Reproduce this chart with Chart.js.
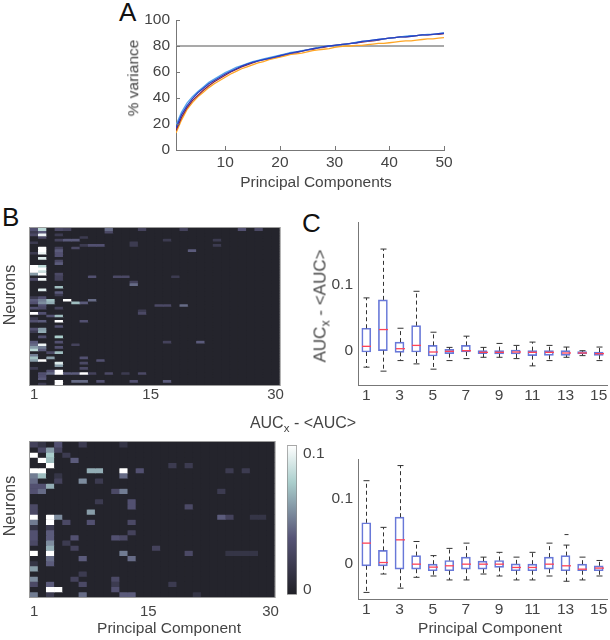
<!DOCTYPE html>
<html>
<head>
<meta charset="utf-8">
<title>Variance explained and AUC by principal component</title>
<script src="https://cdn.jsdelivr.net/npm/chart.js@4.4.1/dist/chart.umd.min.js"></script>
<style>
  html, body { margin: 0; padding: 0; background: #fff; }
  body { position: relative; width: 610px; height: 640px; overflow: hidden;
         font-family: "Liberation Sans", Arial, sans-serif; color: #444; }
  canvas { position: absolute; }
  .txt { position: absolute; line-height: 1; white-space: nowrap; font-size: 15.5px;
         transform: translate(-50%, -50%); }
  .rot { transform: translate(-50%, -50%) rotate(-90deg); }
  .panel { position: absolute; line-height: 1; font-size: 26px; color: #111; }
  .sub { font-size: 0.72em; position: relative; top: 0.32em; }
</style>
</head>
<body>
<div class="panel" style="left:119px;top:-1px">A</div>
<div class="panel" style="left:2px;top:204px">B</div>
<div class="panel" style="left:302px;top:210px">C</div>

<canvas id="varChart" width="340" height="200" style="left:120px;top:0px"></canvas>
<canvas id="heatTop" width="285" height="200" style="left:0px;top:205px"></canvas>
<canvas id="heatBottom" width="285" height="220" style="left:0px;top:420px"></canvas>
<canvas id="colorBar" width="60" height="180" style="left:280px;top:430px"></canvas>
<canvas id="boxTop" width="280" height="210" style="left:330px;top:200px"></canvas>
<canvas id="boxBottom" width="280" height="210" style="left:330px;top:430px"></canvas>

<div class="txt rot" style="left:133px;top:78px">% variance</div>
<div class="txt" style="left:316px;top:182px">Principal Components</div>
<div class="txt rot" style="left:10px;top:295px;font-size:16px">Neurons</div>
<div class="txt rot" style="left:10px;top:506px;font-size:16px">Neurons</div>
<div class="txt" style="left:169px;top:628px">Principal Component</div>
<div class="txt" style="left:490px;top:628px">Principal Component</div>
<div class="txt" style="left:303px;top:423px;font-size:16px">AUC<span class="sub">x</span> - &lt;AUC&gt;</div>
<div class="txt rot" style="left:320px;top:306px;font-size:17px">AUC<span class="sub">x</span> - &lt;AUC&gt;</div>

<script>
// ---- panel A: cumulative % variance ----
const PC_X = [1, 2, 3, 4, 5, 6, 7, 8, 9, 10, 11, 12, 13, 14, 15, 16, 17, 18, 19, 20,
  21, 22, 23, 24, 25, 26, 27, 28, 29, 30, 31, 32, 33, 34, 35, 36, 37, 38, 39, 40,
  41, 42, 43, 44, 45, 46, 47, 48, 49, 50];
const VAR_DARK_BLUE = [17, 27, 34, 39.5, 44, 47.5, 51, 53.5, 56, 58.5,
  60.5, 62.5, 64.5, 66, 67.5, 68.5, 69.5, 70.5, 71.5, 72.5,
  73.5, 74.5, 75.5, 76, 77, 78, 78.5, 79.5, 80, 80.5,
  81, 81.5, 82, 82.5, 83.5, 84, 84.5, 85, 85.5, 86,
  86.5, 87, 87, 87.5, 88, 88.5, 88.5, 89, 89.5, 89.8];
const VAR_LIGHT_BLUE = [19, 29, 36, 41, 45, 48.5, 52, 54.5, 57, 59.5,
  61.5, 63.5, 65, 66.5, 68, 69, 70, 71, 72, 73,
  74, 75, 75.5, 76.5, 77, 78, 79, 79.5, 80, 80.5,
  81, 81.5, 82, 83, 83.5, 84, 84.5, 85, 85.5, 86,
  86.5, 87, 87.5, 88, 88, 88.5, 89, 89, 89.5, 90];
const VAR_DARK_RED = [15, 25, 32.5, 38, 42, 46, 49.5, 52.5, 55, 57.5,
  60, 62, 64, 65.5, 67, 68.5, 69.5, 70.5, 71.5, 72.5,
  73.5, 74.5, 75, 76, 77, 77.5, 78.5, 79, 80, 80.5,
  81, 81.5, 82, 82.5, 83, 83.5, 84, 84.5, 85.5, 86,
  86.5, 87, 87, 87.5, 88, 88.5, 88.5, 89, 89, 89.5];
const VAR_ORANGE = [13, 23, 31, 36.5, 41, 44.5, 48, 51, 53.5, 56,
  58.5, 60.5, 62.5, 64, 65.5, 67, 68, 69.5, 70.5, 71.5,
  72.5, 73.5, 74, 74.5, 75.5, 76.5, 77, 77.5, 78, 79,
  79.5, 80, 80, 80.5, 80.5, 81, 81.5, 82, 82, 82.5,
  83, 83.5, 84, 84, 84.5, 85, 85.5, 85.5, 86, 86.5];
const VAR_THRESHOLD = 80;
const A_X_TICKS = [10, 20, 30, 40, 50];
const A_Y_TICKS = [0, 20, 40, 60, 80, 100];

// ---- panel B: AUC heatmaps (neurons x components) ----
const HEAT_COLS = ['1', '2', '3', '4', '5', '6', '7', '8', '9', '10', '11', '12', '13', '14', '15',
  '16', '17', '18', '19', '20', '21', '22', '23', '24', '25', '26', '27', '28', '29', '30'];
const HEAT_COL_TICKS = ['1', '15', '30'];
const TOP_ROWS = 60;
const BOTTOM_ROWS = 30;
const HEAT_BASE = 0.003;   // cells not listed below read as ~0
// [row, column, AUC_x - <AUC>]
const TOP_CELLS = [
  [1, 1, 0.035], [1, 2, 0.08], [1, 4, 0.03], [1, 5, 0.025], [1, 10, 0.045], [1, 14, 0.025], [1, 19, 0.025], [1, 26, 0.035], [1, 28, 0.03],
  [2, 1, 0.02], [2, 2, 0.04], [2, 10, 0.03],
  [3, 1, 0.03], [3, 2, 0.095], [3, 4, 0.02],
  [4, 2, 0.03], [4, 7, 0.02],
  [5, 4, 0.025], [5, 5, 0.04], [5, 6, 0.04], [5, 17, 0.02], [5, 23, 0.02],
  [6, 1, 0.02], [6, 13, 0.02],
  [7, 7, 0.02], [7, 8, 0.035], [7, 9, 0.035], [7, 13, 0.02], [7, 23, 0.02],
  [8, 2, 0.1], [8, 4, 0.025], [8, 6, 0.03],
  [9, 2, 0.1], [9, 4, 0.04], [9, 20, 0.04],
  [10, 1, 0.02], [10, 2, 0.095], [10, 4, 0.035],
  [11, 4, 0.035],
  [12, 2, 0.09],
  [13, 4, 0.03],
  [14, 4, 0.04],
  [15, 1, 0.1], [15, 2, 0.08],
  [16, 1, 0.1], [16, 2, 0.1],
  [17, 1, 0.1], [17, 2, 0.085],
  [18, 1, 0.06], [18, 2, 0.1], [18, 4, 0.03],
  [19, 4, 0.025], [19, 8, 0.035], [19, 11, 0.03], [19, 12, 0.03], [19, 18, 0.02],
  [20, 1, 0.03], [20, 2, 0.095], [20, 4, 0.025],
  [21, 13, 0.025],
  [22, 13, 0.045],
  [23, 4, 0.07],
  [24, 2, 0.09],
  [25, 4, 0.04],
  [26, 4, 0.02],
  [27, 1, 0.02], [27, 2, 0.035],
  [28, 1, 0.04], [28, 2, 0.05], [28, 3, 0.07], [28, 5, 0.1], [28, 8, 0.045],
  [29, 1, 0.035], [29, 2, 0.055], [29, 3, 0.065], [29, 6, 0.07], [29, 7, 0.04],
  [30, 2, 0.035], [30, 16, 0.03], [30, 17, 0.03], [30, 19, 0.045],
  [31, 1, 0.035], [31, 2, 0.03], [31, 4, 0.025],
  [32, 14, 0.02],
  [33, 1, 0.1], [33, 2, 0.035], [33, 14, 0.03],
  [34, 3, 0.035], [34, 4, 0.07],
  [35, 1, 0.02],
  [36, 1, 0.035], [36, 2, 0.04], [36, 4, 0.1], [36, 7, 0.035],
  [38, 4, 0.035],
  [39, 1, 0.035], [39, 2, 0.06],
  [40, 1, 0.02], [40, 2, 0.065],
  [42, 2, 0.035], [42, 4, 0.075],
  [44, 1, 0.04], [44, 4, 0.035], [44, 17, 0.025], [44, 21, 0.04],
  [45, 1, 0.045], [45, 2, 0.095], [45, 6, 0.025],
  [46, 1, 0.06], [46, 2, 0.05], [46, 4, 0.035],
  [47, 1, 0.08], [47, 2, 0.04],
  [48, 3, 0.03], [48, 4, 0.07],
  [49, 1, 0.05],
  [50, 1, 0.07], [50, 3, 0.06], [50, 7, 0.035],
  [51, 1, 0.06], [51, 2, 0.1], [51, 9, 0.035],
  [52, 4, 0.09], [52, 7, 0.03],
  [53, 4, 0.06],
  [54, 1, 0.02], [54, 7, 0.03],
  [55, 3, 0.035], [55, 4, 0.1],
  [56, 2, 0.035], [56, 3, 0.045], [56, 4, 0.1], [56, 5, 0.04], [56, 6, 0.04], [56, 7, 0.1], [56, 8, 0.025], [56, 10, 0.03], [56, 12, 0.02], [56, 14, 0.03],
  [57, 2, 0.035],
  [58, 2, 0.04],
  [59, 4, 0.1], [59, 6, 0.045], [59, 7, 0.045], [59, 9, 0.035], [59, 13, 0.035], [59, 17, 0.04],
  [60, 2, 0.02], [60, 4, 0.1]
];
const BOTTOM_CELLS = [
  [1, 1, 0.025], [1, 2, 0.015], [1, 4, 0.035], [1, 7, 0.02], [1, 12, 0.015],
  [2, 2, 0.03], [2, 3, 0.06], [2, 4, 0.025],
  [3, 1, 0.1], [3, 3, 0.075], [3, 5, 0.02],
  [4, 2, 0.1], [4, 3, 0.07], [4, 6, 0.04],
  [5, 3, 0.1], [5, 18, 0.02], [5, 20, 0.02],
  [6, 1, 0.1], [6, 2, 0.1], [6, 8, 0.065], [6, 9, 0.065], [6, 12, 0.1], [6, 14, 0.035], [6, 25, 0.02], [6, 27, 0.02],
  [7, 1, 0.05], [7, 2, 0.07], [7, 4, 0.015], [7, 12, 0.045],
  [8, 1, 0.045], [8, 4, 0.025], [8, 7, 0.055], [8, 9, 0.02],
  [9, 1, 0.035], [9, 2, 0.035], [9, 3, 0.065],
  [10, 1, 0.035], [10, 2, 0.045], [10, 11, 0.03], [10, 12, 0.05], [10, 24, 0.02],
  [12, 9, 0.02], [12, 13, 0.035],
  [13, 1, 0.03], [13, 13, 0.035], [13, 20, 0.03],
  [14, 1, 0.03], [14, 8, 0.06],
  [15, 1, 0.1], [15, 3, 0.1], [15, 4, 0.055], [15, 24, 0.04], [15, 25, 0.025], [15, 28, 0.015], [15, 29, 0.015],
  [16, 1, 0.05], [16, 3, 0.1], [16, 5, 0.03], [16, 8, 0.035], [16, 13, 0.03],
  [17, 1, 0.015], [17, 3, 0.02],
  [18, 1, 0.035], [18, 3, 0.04], [18, 13, 0.025],
  [19, 1, 0.035], [19, 3, 0.04], [19, 6, 0.035], [19, 11, 0.035], [19, 12, 0.03],
  [20, 1, 0.03], [20, 3, 0.055], [20, 5, 0.02],
  [21, 3, 0.065], [21, 6, 0.025], [21, 16, 0.025],
  [22, 1, 0.1], [22, 3, 0.1], [22, 12, 0.05], [22, 20, 0.03], [22, 25, 0.015], [22, 26, 0.015], [22, 27, 0.015], [22, 28, 0.015],
  [23, 3, 0.045], [23, 7, 0.04], [23, 13, 0.045],
  [24, 1, 0.015], [24, 3, 0.04],
  [25, 1, 0.06],
  [26, 7, 0.02],
  [27, 1, 0.055], [27, 6, 0.025], [27, 11, 0.03],
  [28, 1, 0.03], [28, 3, 0.04], [28, 7, 0.03], [28, 11, 0.02], [28, 18, 0.02],
  [29, 3, 0.1], [29, 4, 0.1], [29, 11, 0.035],
  [30, 1, 0.05], [30, 3, 0.02], [30, 7, 0.045], [30, 12, 0.04], [30, 13, 0.04], [30, 21, 0.015]
];
const CBAR_RANGE = [-0.004, 0.106];
const CBAR_TICKS = [0, 0.1];

// ---- panel C: box plots per component ----
const BOX_CATS = ['1', '2', '3', '4', '5', '6', '7', '8', '9', '10', '11', '12', '13', '14', '15'];
const BOX_TICKS = ['1', '3', '5', '7', '9', '11', '13', '15'];
const C_Y_TICKS = [0, 0.1];
const TOP_LO  = [-0.025, -0.031, -0.015, -0.020, -0.028, -0.015, -0.012, -0.010, -0.010, -0.012, -0.023, -0.015, -0.010, -0.0075, -0.015];
const TOP_Q1  = [-0.002, 0.000, -0.0025, -0.002, -0.008, -0.0045, -0.002, -0.0045, -0.005, -0.005, -0.0075, -0.007, -0.007, -0.005, -0.007];
const TOP_MED = [0.0066, 0.032, 0.003, 0.008, -0.002, -0.001, 0.000, -0.0025, -0.0025, -0.002, -0.0025, -0.0025, -0.0035, -0.0035, -0.0045];
const TOP_Q3  = [0.034, 0.077, 0.013, 0.038, 0.008, 0.002, 0.008, 0.000, 0.000, 0.001, 0.000, 0.000, 0.000, -0.0015, -0.002];
const TOP_HI  = [0.080, 0.154, 0.034, 0.090, 0.028, 0.005, 0.022, 0.005, 0.011, 0.008, 0.013, 0.008, 0.0055, 0.000, 0.0055];
const BOT_LO  = [-0.043, -0.015, -0.0365, -0.020, -0.018, -0.024, -0.024, -0.015, -0.018, -0.024, -0.024, -0.018, -0.026, -0.024, -0.018];
const BOT_Q1  = [-0.0025, -0.0025, -0.0076, -0.0076, -0.010, -0.010, -0.0076, -0.0076, -0.005, -0.010, -0.010, -0.0076, -0.010, -0.010, -0.010];
const BOT_MED = [0.032, 0.0025, 0.037, 0.000, -0.0045, -0.0025, 0.000, 0.000, 0.000, -0.005, -0.005, 0.000, -0.0025, -0.0076, -0.006];
const BOT_Q3  = [0.063, 0.021, 0.0715, 0.013, 0.000, 0.0056, 0.0107, 0.0046, 0.0056, 0.0005, 0.000, 0.0107, 0.013, 0.000, -0.0025];
const BOT_HI  = [0.127, 0.056, 0.150, 0.0345, 0.013, 0.024, 0.032, 0.0107, 0.018, 0.0107, 0.018, 0.032, 0.029, 0.0107, 0.0056];
const BOT_OUTLIERS = [[13, 0.045]];

// ---- styles ----
const FONT = '"Liberation Sans", Arial, sans-serif';
const TICK_FONT = { family: FONT, size: 15.5 };
const TXT = '#444';
const AXIS = '#777';
const BOX_BLUE = '#6878d8';
const MEDIAN_RED = '#ff4458';
const WHISKER = '#333';
// bone-like colormap (dark -> violet grey -> pale cyan -> white)
const BONE_STOPS = [[0, [32, 32, 38]], [0.38, [86, 84, 118]], [0.75, [170, 206, 204]], [1, [255, 255, 255]]];

function boneColor(v) {
  const t = Math.max(0, Math.min(1, v / 0.1));
  for (let i = 1; i < BONE_STOPS.length; i++) {
    const [t1, c1] = BONE_STOPS[i];
    const [t0, c0] = BONE_STOPS[i - 1];
    if (t <= t1) {
      const f = (t - t0) / (t1 - t0);
      const c = c0.map((a, k) => Math.round(a + (c1[k] - a) * f));
      return `rgb(${c[0]},${c[1]},${c[2]})`;
    }
  }
  return 'rgb(255,255,255)';
}

const base = {
  responsive: false,
  animation: false,
  events: [],
  plugins: { legend: { display: false }, tooltip: { enabled: false } }
};

// MATLAB-style ticks pointing into the plot
const inwardTicks = {
  id: 'inwardTicks',
  afterDraw(chart) {
    const { ctx, chartArea: a, scales: { x, y } } = chart;
    ctx.save();
    ctx.strokeStyle = AXIS;
    ctx.lineWidth = 1;
    ctx.beginPath();
    x.ticks.forEach(t => {
      const px = Math.round(x.getPixelForValue(t.value)) + 0.5;
      ctx.moveTo(px, a.bottom); ctx.lineTo(px, a.bottom - 4);
    });
    y.ticks.forEach(t => {
      const py = Math.round(y.getPixelForValue(t.value)) + 0.5;
      ctx.moveTo(a.left, py); ctx.lineTo(a.left + 4, py);
    });
    ctx.stroke();
    ctx.restore();
  }
};

function varSeries(values, color) {
  return {
    data: PC_X.map((x, i) => ({ x: x, y: values[i] })),
    borderColor: color, borderWidth: 1.3, pointRadius: 0, tension: 0
  };
}

new Chart(document.getElementById('varChart'), {
  type: 'line',
  data: {
    datasets: [
      varSeries(VAR_DARK_BLUE, 'rgb(38,64,196)'),
      varSeries(VAR_LIGHT_BLUE, 'rgb(84,166,236)'),
      varSeries(VAR_DARK_RED, 'rgb(140,36,60)'),
      varSeries(VAR_ORANGE, 'rgb(255,166,36)'),
      {
        data: [{ x: PC_X[0], y: VAR_THRESHOLD }, { x: PC_X[PC_X.length - 1], y: VAR_THRESHOLD }],
        borderColor: '#8c8c8c', borderWidth: 1.3, pointRadius: 0
      }
    ]
  },
  options: {
    ...base,
    layout: { padding: { top: 20, right: 16, bottom: 0, left: 0 } },
    scales: {
      x: {
        type: 'linear', min: 1, max: 50,
        afterBuildTicks: s => { s.ticks = A_X_TICKS.map(v => ({ value: v })); },
        afterFit: s => { s.height = 50; },
        grid: { display: false, drawTicks: false },
        border: { color: AXIS },
        ticks: { color: TXT, font: TICK_FONT, padding: 3, maxRotation: 0 }
      },
      y: {
        min: 0, max: 100,
        afterBuildTicks: s => { s.ticks = A_Y_TICKS.map(v => ({ value: v })); },
        afterFit: s => { s.width = 56; },
        grid: { display: false, drawTicks: false },
        border: { color: AXIS },
        ticks: { color: TXT, font: TICK_FONT, padding: 6 }
      }
    }
  },
  plugins: [inwardTicks]
});

// heatmap: one stacked dataset per neuron row, one bar per component
function heatmap(canvasId, rows, cells, padTop, xHeight, tickPad) {
  const grid = [];
  for (let r = 0; r < rows; r++) grid.push(HEAT_COLS.map(() => HEAT_BASE));
  cells.forEach(([r, c, v]) => { grid[r - 1][c - 1] = v; });

  const frame = {
    id: 'frame',
    beforeDatasetsDraw(chart) {
      const { ctx, chartArea: a } = chart;
      ctx.save();
      ctx.fillStyle = boneColor(HEAT_BASE);
      ctx.fillRect(a.left, a.top, a.width, a.height);
      ctx.restore();
    },
    afterDatasetsDraw(chart) {
      const { ctx, chartArea: a } = chart;
      ctx.save();
      ctx.strokeStyle = '#9a9a9a';
      ctx.lineWidth = 1;
      ctx.strokeRect(a.left - 0.5, a.top - 0.5, a.width + 1, a.height + 1);
      ctx.restore();
    }
  };

  new Chart(document.getElementById(canvasId), {
    type: 'bar',
    data: {
      labels: HEAT_COLS,
      datasets: grid.map(row => ({
        data: row.map(() => 1),
        backgroundColor: row.map(boneColor),
        borderWidth: 0,
        barPercentage: 1,
        categoryPercentage: 1
      }))
    },
    options: {
      ...base,
      layout: { padding: { top: padTop, right: 5, bottom: 0, left: 0 } },
      scales: {
        x: {
          stacked: true,
          afterFit: s => { s.height = xHeight; },
          grid: { display: false, drawTicks: false },
          border: { display: false },
          ticks: {
            color: TXT, font: { family: FONT, size: 15 }, padding: tickPad,
            autoSkip: false, maxRotation: 0,
            callback: (v, i) => HEAT_COL_TICKS.includes(HEAT_COLS[i]) ? HEAT_COLS[i] : ''
          }
        },
        y: {
          stacked: true, reverse: true, min: 0, max: rows,
          afterFit: s => { s.width = 30; },
          grid: { display: false, drawTicks: false },
          border: { display: false },
          ticks: { display: false }
        }
      }
    },
    plugins: [frame]
  });
}

heatmap('heatTop', TOP_ROWS, TOP_CELLS, 23, 20, 1);
heatmap('heatBottom', BOTTOM_ROWS, BOTTOM_CELLS, 22, 43, 6);

// colour bar
new Chart(document.getElementById('colorBar'), {
  type: 'bar',
  data: {
    labels: [''],
    datasets: [{
      data: [CBAR_RANGE],
      barPercentage: 1, categoryPercentage: 1,
      borderWidth: 1, borderColor: '#8a8a8a', borderSkipped: false,
      backgroundColor: c => {
        const a = c.chart.chartArea;
        if (!a) return '#333';
        const g = c.chart.ctx.createLinearGradient(0, a.bottom, 0, a.top);
        BONE_STOPS.forEach(([t, rgb]) => g.addColorStop(t, `rgb(${rgb.join(',')})`));
        return g;
      }
    }]
  },
  options: {
    ...base,
    layout: { padding: { top: 13, right: 0, bottom: 12, left: 7 } },
    scales: {
      x: { display: false },
      y: {
        position: 'right', min: CBAR_RANGE[0], max: CBAR_RANGE[1],
        afterBuildTicks: s => { s.ticks = CBAR_TICKS.map(v => ({ value: v })); },
        afterFit: s => { s.width = 43; },
        grid: { display: false, drawTicks: false },
        border: { display: false },
        ticks: { color: TXT, font: TICK_FONT, padding: 6 }
      }
    }
  }
});

// box plots: floating bars for the boxes, whiskers/medians drawn on the same scales
function boxChart(canvasId, lo, q1, med, q3, hi, outliers, yMin, yMax, padTop, xHeight) {
  const whiskers = {
    id: 'whiskers',
    afterDatasetsDraw(chart) {
      const { ctx, scales: { x, y } } = chart;
      const seg = (x0, y0, x1, y1) => { ctx.beginPath(); ctx.moveTo(x0, y0); ctx.lineTo(x1, y1); ctx.stroke(); };
      ctx.save();
      BOX_CATS.forEach((_, i) => {
        const px = Math.round(x.getPixelForValue(i)) + 0.5;
        const yHi = y.getPixelForValue(hi[i]), yLo = y.getPixelForValue(lo[i]);
        ctx.strokeStyle = WHISKER;
        ctx.lineWidth = 1;
        ctx.setLineDash([4, 3]);
        seg(px, y.getPixelForValue(q3[i]), px, yHi);
        seg(px, y.getPixelForValue(q1[i]), px, yLo);
        ctx.setLineDash([]);
        seg(px - 3, yHi, px + 3, yHi);
        seg(px - 3, yLo, px + 3, yLo);
        ctx.strokeStyle = MEDIAN_RED;
        ctx.lineWidth = 1.3;
        const ym = y.getPixelForValue(med[i]);
        seg(px - 4.5, ym, px + 4.5, ym);
      });
      ctx.strokeStyle = WHISKER;
      ctx.lineWidth = 1;
      outliers.forEach(([c, v]) => {
        const px = Math.round(x.getPixelForValue(c - 1)) + 0.5;
        const py = y.getPixelForValue(v);
        seg(px - 2, py, px + 2, py);
      });
      ctx.restore();
    }
  };

  new Chart(document.getElementById(canvasId), {
    type: 'bar',
    data: {
      labels: BOX_CATS,
      datasets: [{
        data: q1.map((v, i) => [v, q3[i]]),
        backgroundColor: 'rgba(255,255,255,0)',
        borderColor: BOX_BLUE,
        borderWidth: 1,
        borderSkipped: false,
        barThickness: 9
      }]
    },
    options: {
      ...base,
      layout: { padding: { top: padTop, right: 3, bottom: 0, left: 0 } },
      scales: {
        x: {
          afterFit: s => { s.height = xHeight; },
          grid: { display: false, drawTicks: false },
          border: { color: AXIS },
          ticks: {
            color: TXT, font: TICK_FONT, padding: 1, autoSkip: false, maxRotation: 0,
            callback: (v, i) => BOX_TICKS.includes(BOX_CATS[i]) ? BOX_CATS[i] : ''
          }
        },
        y: {
          min: yMin, max: yMax,
          afterBuildTicks: s => { s.ticks = C_Y_TICKS.map(v => ({ value: v })); },
          afterFit: s => { s.width = 28; },
          grid: { display: false, drawTicks: false },
          border: { color: AXIS },
          ticks: { color: TXT, font: TICK_FONT, padding: 5 }
        }
      }
    },
    plugins: [whiskers]
  });
}

boxChart('boxTop', TOP_LO, TOP_Q1, TOP_MED, TOP_Q3, TOP_HI, [], -0.052, 0.195, 22, 25);
boxChart('boxBottom', BOT_LO, BOT_Q1, BOT_MED, BOT_Q3, BOT_HI, BOT_OUTLIERS, -0.053, 0.16, 29, 41);
</script>
</body>
</html>
